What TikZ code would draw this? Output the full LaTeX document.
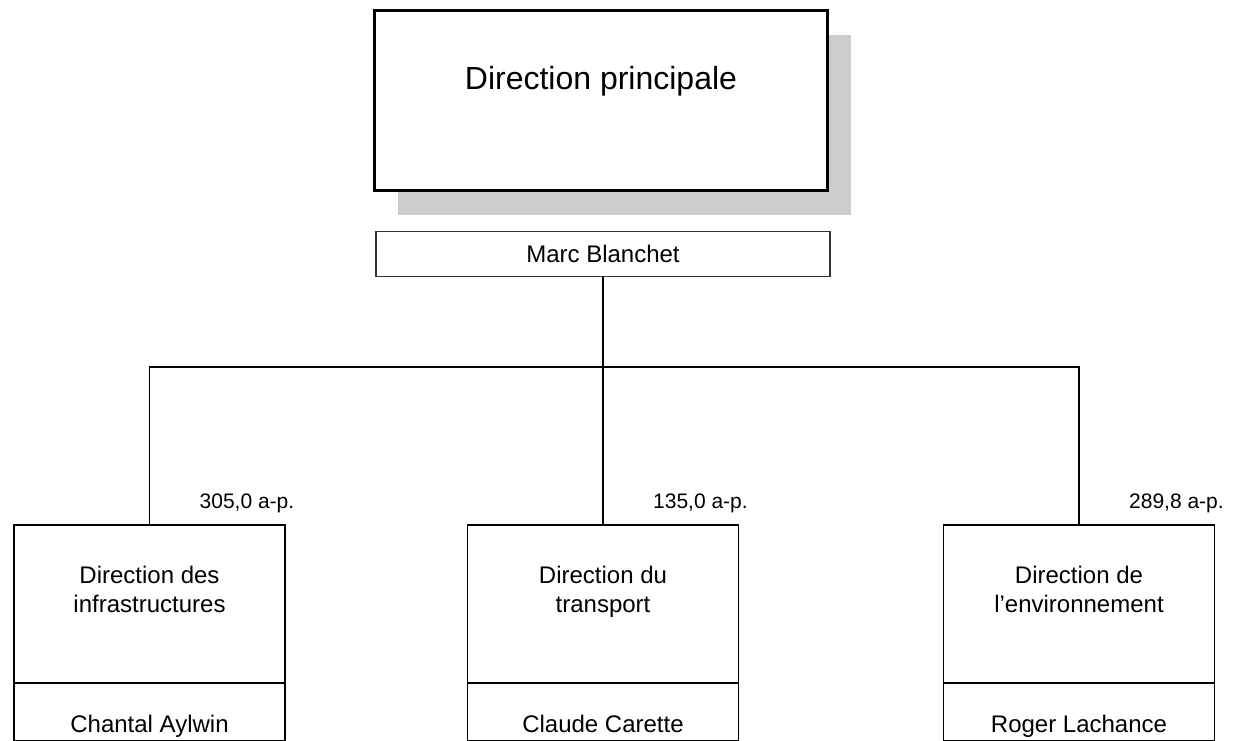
\documentclass[tikz,border=0pt]{standalone}
\usepackage{fontspec}
\setmainfont{Liberation Sans}
\usepackage{tikz}
\usetikzlibrary{positioning, calc, shadows}

\begin{document}
\begin{tikzpicture}[x=1pt,y=-1pt,
  mainbox/.style={draw, line width=3pt, fill=white, minimum width=453, minimum height=180,
    drop shadow={shadow xshift=23.5pt, shadow yshift=-24pt, fill=black!20, opacity=1}},
  namebar/.style={draw=black!80, line width=1.2pt, minimum width=454, minimum height=45.5,
    inner sep=0pt, font=\fontsize{24}{29}\selectfont},
  dirbox/.style={draw, line width=1.8pt, outer sep=0pt, minimum width=271, minimum height=158},
  namebox/.style={dirbox, minimum height=57.5},
  dirtext/.style={align=center, inner sep=0pt, font=\fontsize{24}{29}\selectfont},
  fte/.style={inner sep=0pt, anchor=base west, font=\fontsize{21}{25}\selectfont},
  link/.style={line width=1.5pt}]
\useasboundingbox (0,0) rectangle (1235,741);
% Top: direction principale
\node[mainbox] (principale) at (601,101) {};
\node[inner sep=0pt, anchor=base, font=\fontsize{32}{38}\selectfont] (principale-t) at (601,90) {Direction principale};
\node[namebar] (blanchet) at (603,254) {Marc Blanchet};
% Direction des infrastructures
\node[dirbox] (infra) at (149.5,604) {};
\node[namebox, below=0pt of infra] (infra-nb) {};
\node[dirtext, anchor=north] (infra-t) at ($(infra.north)+(0,40.5)$) {Direction des\\infrastructures};
\node[dirtext, anchor=base] (infra-n) at ($(infra.south)+(0,49)$) {Chantal Aylwin};
\node[fte] (infra-fte) at ($(infra.north)+(50,-17)$) {305,0 a-p.};
% Direction du transport
\node[dirbox] (transport) at (603,604) {};
\node[namebox, below=0pt of transport] (transport-nb) {};
\node[dirtext, anchor=north] (transport-t) at ($(transport.north)+(0,40.5)$) {Direction du\\transport};
\node[dirtext, anchor=base] (transport-n) at ($(transport.south)+(0,49)$) {Claude Carette};
\node[fte] (transport-fte) at ($(transport.north)+(50,-17)$) {135,0 a-p.};
% Direction de l'environnement
\node[dirbox] (env) at (1079,604) {};
\node[namebox, below=0pt of env] (env-nb) {};
\node[dirtext, anchor=north] (env-t) at ($(env.north)+(0,40.5)$) {Direction de\\l’environnement};
\node[dirtext, anchor=base] (env-n) at ($(env.south)+(0,49)$) {Roger Lachance};
\node[fte] (env-fte) at ($(env.north)+(50,-17)$) {289,8 a-p.};
% Connectors
\coordinate (bar) at (603,367);
\draw[link] (blanchet.south) -- (transport.north);
\draw[link] (infra.north) |- (bar) -| (env.north);
\end{tikzpicture}
\end{document}
